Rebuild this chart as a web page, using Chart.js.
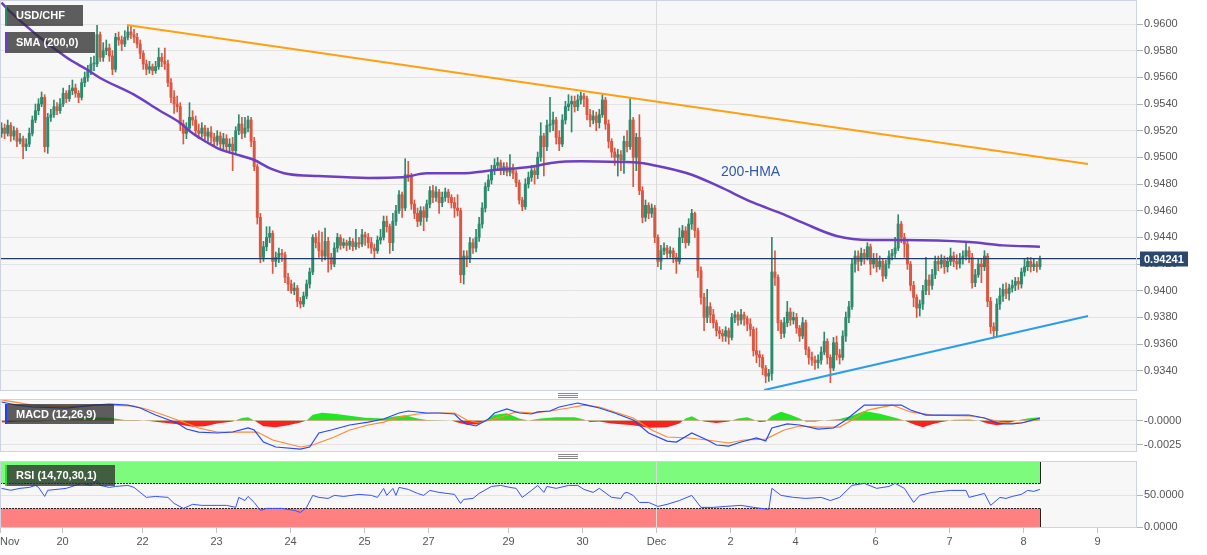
<!DOCTYPE html>
<html><head><meta charset="utf-8">
<script src="https://cdn.jsdelivr.net/npm/chart.js@4.4.1/dist/chart.umd.min.js"></script>
<style>
html,body{margin:0;padding:0;background:#fff;}
#wrap{position:relative;width:1207px;height:555px;overflow:hidden;background:#fff;}
canvas{position:absolute;left:0;}
.sep{position:absolute;left:558px;width:20px;height:3px;border-top:1px solid #8a8a8a;border-bottom:1px solid #8a8a8a;}
.sep::after{content:'';position:absolute;left:0;top:1px;width:20px;border-top:1px solid #8a8a8a;}
</style></head><body>
<div id="wrap">
<canvas id="main" width="1207" height="391" style="top:0"></canvas>
<div class="sep" style="top:393px"></div>
<canvas id="macd" width="1207" height="53" style="top:399px"></canvas>
<div class="sep" style="top:454px"></div>
<canvas id="rsi" width="1207" height="95" style="top:460px"></canvas>
</div>
<script>
// ---------- DATA (hourly USD/CHF, prices in pips = price x 10000) ----------
const FIRST_OPEN_PIPS = 9518;
const closePips = [
9522,9518,9524,9516,9520,9512,9514,9508,9510,9518,
9528,9535,9540,9545,9508,9530,9532,9538,9535,9540,
9548,9544,9550,9552,9548,9545,9556,9560,9565,9570,
9570,9592,9575,9580,9582,9576,9566,9590,9588,9585,
9590,9594,9592,9590,9585,9578,9570,9566,9568,9565,
9568,9575,9572,9570,9556,9545,9540,9538,9525,9518,
9522,9530,9528,9520,9518,9522,9516,9519,9515,9512,
9516,9510,9514,9508,9510,9505,9520,9525,9518,9522,
9528,9512,9493,9455,9425,9433,9440,9443,9422,9425,
9428,9427,9410,9405,9400,9402,9392,9390,9396,9405,
9414,9440,9436,9430,9426,9437,9425,9420,9432,9440,
9434,9436,9434,9437,9433,9436,9435,9442,9440,9436,
9432,9430,9438,9440,9452,9448,9436,9452,9460,9472,
9462,9487,9486,9465,9458,9452,9460,9455,9465,9475,
9470,9474,9466,9470,9474,9470,9466,9462,9460,9412,
9426,9424,9436,9432,9440,9450,9462,9478,9483,9490,
9494,9496,9490,9493,9489,9492,9488,9481,9468,9463,
9480,9485,9490,9487,9500,9516,9508,9524,9525,9528,
9515,9510,9528,9538,9540,9542,9538,9543,9546,9544,
9532,9528,9531,9526,9532,9543,9525,9512,9504,9500,
9502,9498,9512,9508,9528,9500,9515,9475,9455,9464,
9458,9462,9440,9422,9430,9432,9428,9430,9425,9422,
9440,9445,9436,9450,9458,9445,9415,9395,9380,9388,
9382,9376,9370,9368,9366,9370,9365,9380,9382,9378,
9382,9379,9375,9371,9355,9352,9350,9342,9336,9338,
9414,9410,9376,9368,9376,9384,9378,9380,9372,9366,
9376,9356,9350,9348,9346,9348,9354,9362,9350,9342,
9361,9352,9350,9366,9380,9388,9420,9426,9422,9428,
9425,9433,9420,9424,9418,9422,9411,9420,9426,9428,
9432,9450,9440,9435,9420,9404,9395,9387,9390,9400,
9408,9404,9412,9422,9420,9423,9418,9422,9426,9422,
9420,9424,9426,9430,9425,9406,9412,9420,9418,
9426,9392,9373,9370,9390,9396,9401,9398,9402,9404,
9407,9405,9414,9418,9422,9418,9420,9418,9424];
const highPips = [
9526,9525,9528,9526,9523,9522,9518,9516,9514,9522,
9531,9540,9544,9549,9547,9533,9536,9543,9541,9544,
9552,9550,9554,9558,9555,9550,9559,9564,9569,9575,
9576,9599,9594,9586,9588,9585,9580,9593,9594,9591,
9595,9598,9599,9596,9593,9588,9580,9573,9572,9570,
9572,9582,9578,9582,9573,9559,9550,9546,9541,9528,
9526,9541,9535,9531,9525,9526,9524,9522,9523,9518,
9520,9519,9518,9517,9514,9515,9523,9532,9530,9530,
9531,9530,9515,9495,9458,9437,9448,9448,9445,9429,
9432,9431,9429,9413,9408,9406,9404,9395,9399,9408,
9417,9442,9443,9445,9444,9447,9440,9428,9436,9443,
9442,9439,9438,9440,9439,9446,9440,9446,9444,9443,
9440,9435,9441,9446,9456,9456,9450,9458,9464,9475,
9474,9499,9497,9488,9468,9462,9463,9463,9468,9478,
9479,9478,9476,9474,9477,9476,9472,9470,9472,9462,
9430,9430,9440,9439,9446,9455,9466,9481,9487,9494,
9499,9500,9498,9496,9496,9502,9495,9490,9483,9470,
9484,9489,9494,9493,9504,9526,9518,9528,9545,9534,
9530,9520,9532,9542,9547,9546,9546,9547,9549,9548,
9546,9536,9535,9534,9536,9547,9545,9528,9514,9507,
9506,9505,9516,9520,9544,9530,9518,9532,9478,9468,
9466,9465,9464,9442,9434,9436,9434,9433,9432,9428,
9447,9449,9448,9454,9461,9459,9447,9418,9398,9401,
9391,9386,9378,9373,9371,9373,9372,9383,9385,9384,
9386,9384,9381,9379,9373,9372,9355,9352,9344,9341,
9440,9430,9412,9378,9380,9392,9387,9384,9383,9374,
9380,9378,9358,9354,9351,9352,9358,9369,9364,9352,
9365,9366,9356,9370,9384,9392,9424,9430,9430,9432,
9431,9436,9435,9428,9428,9426,9424,9423,9430,9431,
9440,9457,9452,9443,9437,9422,9407,9397,9393,9404,
9425,9412,9416,9426,9426,9427,9426,9425,9432,9429,
9427,9428,9430,9437,9433,9428,9416,9424,9424,
9430,9428,9395,9376,9394,9402,9405,9406,9405,9408,
9410,9410,9417,9424,9425,9425,9424,9422,9426];
const lowPips = [
9515,9514,9516,9512,9513,9508,9510,9499,9505,9508,
9516,9526,9532,9538,9504,9503,9527,9530,9532,9533,
9538,9541,9542,9547,9545,9541,9543,9553,9557,9562,
9565,9568,9572,9572,9577,9572,9562,9564,9584,9580,
9583,9588,9589,9586,9582,9574,9566,9562,9563,9562,
9563,9566,9568,9566,9553,9541,9533,9534,9520,9510,
9514,9520,9524,9517,9514,9515,9512,9512,9511,9508,
9509,9506,9506,9504,9503,9490,9502,9517,9514,9515,
9519,9508,9490,9450,9421,9422,9430,9436,9413,9418,
9421,9422,9406,9400,9398,9397,9388,9387,9388,9394,
9402,9412,9432,9425,9422,9423,9414,9416,9418,9429,
9431,9432,9430,9431,9430,9431,9432,9433,9434,9432,
9428,9424,9428,9435,9438,9444,9428,9430,9449,9458,
9455,9460,9482,9461,9454,9448,9449,9445,9452,9462,
9466,9467,9458,9463,9467,9466,9462,9455,9456,9406,
9405,9418,9421,9428,9429,9437,9447,9459,9475,9480,
9487,9490,9487,9487,9486,9486,9484,9478,9465,9460,
9461,9477,9482,9480,9484,9497,9486,9505,9519,9520,
9510,9505,9508,9525,9535,9519,9534,9535,9540,9538,
9528,9523,9525,9520,9522,9530,9521,9507,9500,9494,
9486,9490,9488,9504,9506,9478,9490,9472,9451,9452,
9454,9455,9436,9418,9416,9427,9424,9425,9421,9413,
9420,9436,9432,9434,9446,9440,9410,9390,9370,9376,
9376,9372,9366,9364,9362,9362,9360,9363,9376,9374,
9375,9374,9370,9366,9351,9346,9343,9337,9331,9332,
9333,9404,9370,9364,9365,9373,9374,9375,9368,9362,
9364,9352,9345,9344,9341,9342,9345,9352,9345,9331,
9340,9348,9345,9348,9362,9376,9386,9414,9415,9419,
9420,9423,9412,9417,9414,9416,9407,9409,9417,9423,
9425,9430,9436,9425,9416,9400,9388,9380,9381,9386,
9397,9397,9401,9409,9415,9417,9413,9414,9419,9418,
9416,9417,9420,9423,9421,9402,9403,9410,9406,
9415,9388,9368,9365,9366,9386,9392,9394,9393,9399,
9400,9401,9402,9411,9415,9414,9415,9414,9416];
const LAST_PRICE = 0.94241;

// 200-period moving average (bar index, value)
const smaIdx = [0,2,21,28,32,43,51,58,62,67,70,75,82,87,93,103,119,130,138,149,160,172,179,188,201,207,214,224,233,244,253,260,271,282,293,314,325,337];
const smaVal = [0.9616,0.9611,0.9575,0.95655,0.95595,0.9547,0.95355,0.95258,0.9518,0.95108,0.9507,0.9503,0.9498,0.9492,0.94875,0.9486,0.94845,0.9485,0.9488,0.9488,0.94905,0.9493,0.9496,0.9497,0.94965,0.9496,0.9493,0.9487,0.9478,0.9466,0.9458,0.9451,0.9441,0.9438,0.9438,0.94365,0.9434,0.9433];

// trend lines
const resistIdx = [40.7, 352.6], resistVal = [0.95993, 0.9495];
const supportIdx = [247.5, 352.6], supportVal = [0.93255, 0.9381];

// MACD (12,26,9), values in units of 1e-4
const macdIdx = [0,5,10,21,30,35,41,45,50,57,60,64,70,75,80,82,85,89,97,100,103,107,113,119,124,129,132,138,142,147,149,151,154,158,160,164,168,172,174,178,181,187,190,194,199,205,210,216,219,224,229,232,236,240,245,248,250,255,259,265,270,274,280,286,292,295,300,308,314,319,324,328,331,337];
const macdVal = [19.3,16.1,14.1,13.0,16.1,17.2,16.1,13.0,5.7,-2.6,-8.9,-12.0,-13.0,-12.0,-7.8,-9.9,-22.4,-27.6,-29.7,-27.6,-13.0,-9.9,-4.7,-1.6,1.6,7.8,9.9,7.8,7.8,6.8,0.5,-3.6,-5.7,1.6,7.8,12.0,7.8,6.8,8.9,9.9,14.1,18.2,16.1,13.0,7.8,0.5,-13.0,-21.4,-22.4,-13.0,-20.3,-25.5,-26.6,-22.4,-18.2,-21.4,-7.8,-3.6,-4.7,-8.9,-7.8,0.5,16.1,16.1,16.1,10.9,5.7,5.7,5.7,2.6,-3.6,-3.6,-2.6,2.6];
const signalIdx = [0,10,21,32,43,48,59,64,70,77,83,88,97,101,108,113,119,124,129,135,140,147,151,155,162,167,173,178,184,189,194,205,211,216,223,229,236,241,248,254,259,265,272,276,281,289,295,302,314,319,324,328,332,337];
const signalVal = [21.4,16.1,14.1,16.1,15.1,10.9,-1.6,-7.8,-12.0,-12.0,-12.0,-20.3,-27.6,-25.5,-17.2,-9.9,-4.7,-1.6,3.6,6.8,7.8,7.8,0.5,-2.6,3.6,8.9,7.8,9.9,13.0,16.1,14.1,2.6,-9.9,-17.2,-18.2,-20.3,-23.4,-20.3,-19.3,-9.9,-5.7,-6.8,-6.8,0.5,10.9,16.1,8.9,5.7,4.7,2.6,-1.6,-3.0,-2.0,1.6];
const histIdx = [0,6,12,18,24,30,35,40,44,48,52,57,62,66,70,75,78,80,82,85,89,93,97,99,101,104,108,113,118,124,127,131,135,138,146,148,151,155,157,160,164,168,171,175,180,186,189,191,194,198,205,210,216,220,222,224,226,228,232,236,239,242,244,246,248,250,253,256,259,261,264,267,272,276,280,285,290,293,296,299,302,305,307,309,314,317,320,323,326,329,331,334,337];
const histVal = [-2,-1,-1,0,1.5,3.5,3,0.5,0.5,-0.5,-2,-4,-6.5,-6,-3,-1,2.5,3.5,0,-6,-7,-5,-2,0,6,8,7,5,3,2,4,5.5,2,0.5,0,-2,-4.5,-4,0,6,7.5,2,0,2,3.5,3.5,1,-1.5,-1,-3,-5,-7.5,-7,-3,2,4.5,1,-1,-2.5,-1,2,3.5,1,-1.5,-1,5,9,6,2,-1,-1,0,1.5,5,10,7,3,0,-4,-7,-4,-1.5,-0.5,0.8,1,0,-3,-5,-3,-0.5,1,2.5,3.5];
const MACD_UNIT = 1e-4;

// RSI (14,70,30,1)
const rsiIdx = [0,3,6,9,11,12,14,15,18,21,26,29,31,32,35,37,41,43,45,47,50,54,56,59,62,65,70,73,76,77,79,80,82,84,86,88,91,95,97,99,101,103,106,108,111,116,120,122,124,125,127,128,129,132,135,137,139,142,147,149,150,153,155,159,162,165,167,169,172,174,176,177,180,184,187,189,192,194,198,201,202,203,205,207,210,213,216,220,224,227,231,235,240,244,249,250,253,257,261,266,269,272,276,280,284,288,290,293,296,298,302,308,313,314,319,321,324,326,328,331,333,335,337];
const rsiVal = [61,58,61,62.5,65.6,62.5,48.4,58,59.4,61,68.8,65.6,73.4,65.6,62.5,64,65.6,62.5,54.7,46.9,48.4,46.9,37.5,29.7,36,34.4,34.4,34.4,31.3,46.9,42,48.4,39,26.6,29.7,29.7,29.7,26.6,23.4,31.3,50,46.9,45.3,50,48.4,51.6,50,46.9,60.9,50,60.9,50,62.5,59.4,53.1,50,57.8,54.7,51.6,37.5,43.8,45.3,53.1,64,65.6,62.5,61,46.9,57.8,65.6,54.7,64,61,65.6,65.6,59.4,54.7,61,46.9,45.3,53.1,54.7,50,39,39,32.8,36,42,50,31.3,31.3,32.8,34.4,31.3,28.1,61,50,46.9,45.3,46.9,42,46.9,65.6,68.8,61,64,68.8,61,39,50,54.7,57.8,57.8,46.9,53.1,34.4,46.9,45.3,48.4,51.6,57.8,56.3,59.4];
const RSI_OVERBOUGHT = 70, RSI_OVERSOLD = 30;

// axis ticks
const dayTickIdx = [-0.5,19.5,45.5,69.5,93.5,117.5,138.5,164.5,188.5,212.5,236.5,257.5,283.5,307.5,331.5,355.5];
const dayTickLabels = ['Nov','20','22','23','24','25','27','29','30','Dec','2','4','6','7','8','9'];
const MONTH_TICK_IDX = 212.5;
const priceTicks = [0.934,0.936,0.938,0.940,0.942,0.944,0.946,0.948,0.950,0.952,0.954,0.956,0.958,0.960];
const priceTickLabels = priceTicks.map(v => v.toFixed(4));
const macdTicks = [0, -0.0025], macdTickLabels = ['-0.0000', '-0.0025'];
const rsiTicks = [0, 50], rsiTickLabels = ['0.0000', '50.0000'];

// ---------- STYLE / LAYOUT ----------
const GREEN = '#2d8a6d', RED = '#dc5742';
const FONT = '"Liberation Sans", Arial, Helvetica, sans-serif';
Chart.defaults.font.family = FONT;
Chart.defaults.font.size = 11;
Chart.defaults.color = '#555';
Chart.defaults.animation = false;
const X_MIN = -0.5, X_MAX = 368.5, AXIS_W = 70;

function xAxis(){ return {type:'linear', min:X_MIN, max:X_MAX, display:false, offset:false}; }
function yAxis(min, max, ticks, labels){
  return {type:'linear', position:'right', min, max,
    afterBuildTicks(s){ s.ticks = ticks.map(v => ({value:v})); },
    afterFit(s){ s.width = AXIS_W; s.paddingTop = 0; s.paddingBottom = 0; },
    ticks:{autoSkip:false, padding:1, color:'#555', font:{size:11}, callback:(v,i) => labels[i]},
    grid:{color:'#e3e3e3', tickColor:'#b5b5b5', tickLength:6, lineWidth:1},
    border:{display:false}};
}
function legendBox(ctx, x, y, w, h, strip, text){
  ctx.save();
  ctx.fillStyle = 'rgba(45,45,45,0.76)'; ctx.fillRect(x, y, w, h);
  ctx.fillStyle = strip; ctx.fillRect(x, y, 2, h);
  ctx.fillStyle = '#fff'; ctx.font = 'bold 11px ' + FONT; ctx.textBaseline = 'middle';
  ctx.fillText(text, x + 11, y + h/2 + 0.5);
  ctx.restore();
}
function panelPlugin(id, hooks){
  return {id,
    beforeDraw(c){ const {ctx, chartArea:a} = c; ctx.save(); ctx.fillStyle = '#f7f7f7';
      ctx.fillRect(a.left, a.top, a.right-a.left, a.bottom-a.top); ctx.restore(); },
    beforeDatasetsDraw(c){ const {ctx, chartArea:a, scales} = c;
      if (hooks.under) hooks.under(c);
      const x = Math.round(scales.x.getPixelForValue(MONTH_TICK_IDX)) + 0.5;
      ctx.save(); ctx.strokeStyle = '#dadada'; ctx.lineWidth = 1; ctx.beginPath();
      ctx.moveTo(x, a.top); ctx.lineTo(x, a.bottom); ctx.stroke(); ctx.restore(); },
    afterDatasetsDraw(c){ if (hooks.over) hooks.over(c); },
    afterDraw(c){ const {ctx, chartArea:a} = c; ctx.save(); ctx.strokeStyle = '#cdd3e3'; ctx.lineWidth = 1;
      ctx.strokeRect(a.left+0.5, a.top+0.5, a.right-a.left-1, a.bottom-a.top-1); ctx.restore();
      if (hooks.top) hooks.top(c); }
  };
}
const baseOpts = {responsive:false, devicePixelRatio:1, events:[],
  plugins:{legend:{display:false}, tooltip:{enabled:false}}};

// ---------- MAIN PRICE CHART ----------
const N = closePips.length;
const P = v => v / 10000;
const openPips = closePips.map((c,i) => i === 0 ? FIRST_OPEN_PIPS : closePips[i-1]);
const candleColors = closePips.map((c,i) => c >= openPips[i] ? GREEN : RED);
const wickData = closePips.map((c,i) => ({x:i, y:[P(lowPips[i]), P(highPips[i])]}));
const bodyData = closePips.map((c,i) => ({x:i, y:[P(openPips[i]), P(c)]}));
const pts = (xs, ys, k=1) => xs.map((x,i) => ({x, y: ys[i]*k}));

new Chart(document.getElementById('main'), {
  type:'bar',
  data:{datasets:[
    {type:'bar', data:wickData, backgroundColor:candleColors, barThickness:1, grouped:false, order:6, borderWidth:0},
    {type:'bar', data:bodyData, backgroundColor:candleColors, barThickness:2.3, grouped:false, order:5, borderWidth:0, minBarLength:1},
    {type:'line', data:pts(smaIdx, smaVal), borderColor:'#6c3fc3', borderWidth:2.5, pointRadius:0, cubicInterpolationMode:'monotone', order:4},
    {type:'line', data:pts(resistIdx, resistVal), borderColor:'#ffa010', borderWidth:2, pointRadius:0, order:3},
    {type:'line', data:pts(supportIdx, supportVal), borderColor:'#2b9cf2', borderWidth:2, pointRadius:0, order:2}
  ]},
  options:{...baseOpts, layout:{padding:0},
    scales:{x:xAxis(), y:yAxis(0.93248, 0.96180, priceTicks, priceTickLabels)}},
  plugins:[panelPlugin('mainPanel', {
    over(c){ const {ctx, chartArea:a, scales:{x:xs, y:ys}} = c;
      const y = ys.getPixelForValue(LAST_PRICE);
      ctx.save(); ctx.strokeStyle = '#223d63'; ctx.lineWidth = 1.4; ctx.beginPath();
      ctx.moveTo(a.left, y); ctx.lineTo(a.right + 3, y); ctx.stroke();
      ctx.fillStyle = '#2f5aaa'; ctx.font = '14px ' + FONT; ctx.textBaseline = 'middle';
      ctx.fillText('200-HMA', xs.getPixelForValue(233.5), ys.getPixelForValue(0.9489));
      ctx.restore(); },
    top(c){ const {ctx, chartArea:a, scales:{y:ys}} = c;
      legendBox(ctx, 5, 5, 78, 21, '#2d8a6d', 'USD/CHF');
      legendBox(ctx, 5, 32, 90, 21, '#6c3fc3', 'SMA (200,0)');
      const y = ys.getPixelForValue(LAST_PRICE);
      ctx.save(); ctx.fillStyle = '#2b486e'; ctx.fillRect(a.right + 3, Math.round(y) - 7.5, 48, 15);
      ctx.fillStyle = '#fff'; ctx.font = 'bold 11px ' + FONT; ctx.textBaseline = 'middle';
      ctx.fillText(LAST_PRICE.toFixed(5), a.right + 7, Math.round(y) + 0.5); ctx.restore(); }
  })]
});

// ---------- MACD ----------
new Chart(document.getElementById('macd'), {
  type:'line',
  data:{datasets:[
    {data:pts(histIdx, histVal, MACD_UNIT), borderWidth:0, borderColor:'transparent', pointRadius:0,
     fill:{target:{value:0}, above:'#22e622', below:'#ff1f1f'}, order:3},
    {data:pts(signalIdx, signalVal, MACD_UNIT), borderColor:'#ff8a30', borderWidth:1.2, pointRadius:0, fill:false, order:2},
    {data:pts(macdIdx, macdVal, MACD_UNIT), borderColor:'#2548ff', borderWidth:1.2, pointRadius:0, fill:false, order:1}
  ]},
  options:{...baseOpts, layout:{padding:0},
    scales:{x:xAxis(), y:yAxis(-0.00328, 0.00224, macdTicks, macdTickLabels)}},
  plugins:[panelPlugin('macdPanel', {
    top(c){ legendBox(c.ctx, 5, 5, 109, 20, '#1f3cff', 'MACD (12,26,9)'); }
  })]
});

// ---------- RSI + time axis ----------
new Chart(document.getElementById('rsi'), {
  type:'line',
  data:{datasets:[
    {data:pts(rsiIdx, rsiVal), borderColor:'#3553ff', borderWidth:1, pointRadius:0, fill:false}
  ]},
  options:{...baseOpts, layout:{padding:{top:1, bottom:27}},
    scales:{x:xAxis(), y:yAxis(-0.94, 103.75, rsiTicks, rsiTickLabels)}},
  plugins:[panelPlugin('rsiPanel', {
    under(c){ const {ctx, chartArea:a, scales:{x:xs, y:ys}} = c;
      const xr = Math.round(xs.getPixelForValue(N - 1)) + 0.5;
      const y70 = Math.round(ys.getPixelForValue(RSI_OVERBOUGHT)) + 0.5;
      const y30 = Math.round(ys.getPixelForValue(RSI_OVERSOLD)) + 0.5;
      ctx.save();
      ctx.fillStyle = '#7dfb7d'; ctx.fillRect(a.left, a.top, xr - a.left, y70 - a.top);
      ctx.fillStyle = '#ff8080'; ctx.fillRect(a.left, y30, xr - a.left, a.bottom - y30);
      ctx.strokeStyle = '#222'; ctx.lineWidth = 1;
      ctx.setLineDash([2,1]);
      ctx.beginPath(); ctx.moveTo(a.left, y70); ctx.lineTo(xr, y70); ctx.moveTo(a.left, y30); ctx.lineTo(xr, y30); ctx.stroke();
      ctx.setLineDash([]);
      ctx.beginPath(); ctx.moveTo(xr, a.top); ctx.lineTo(xr, y70); ctx.moveTo(xr, y30); ctx.lineTo(xr, a.bottom); ctx.stroke();
      ctx.restore(); },
    top(c){ const {ctx, chartArea:a, scales:{x:xs}} = c;
      legendBox(ctx, 5, 5, 110, 21, '#2fe02f', 'RSI (14,70,30,1)');
      ctx.save(); ctx.strokeStyle = '#c4c4c4'; ctx.lineWidth = 1;
      ctx.font = '11px ' + FONT; ctx.fillStyle = '#555'; ctx.textBaseline = 'middle';
      dayTickIdx.forEach((v,k) => {
        const x = Math.round(xs.getPixelForValue(v)) + 0.5;
        ctx.beginPath(); ctx.moveTo(x, a.bottom); ctx.lineTo(x, a.bottom + 5); ctx.stroke();
        const t = dayTickLabels[k]; const w = ctx.measureText(t).width;
        ctx.fillText(t, Math.max(0, x - w/2), a.bottom + 14);
      });
      ctx.restore(); }
  })]
});
</script>
</body></html>
